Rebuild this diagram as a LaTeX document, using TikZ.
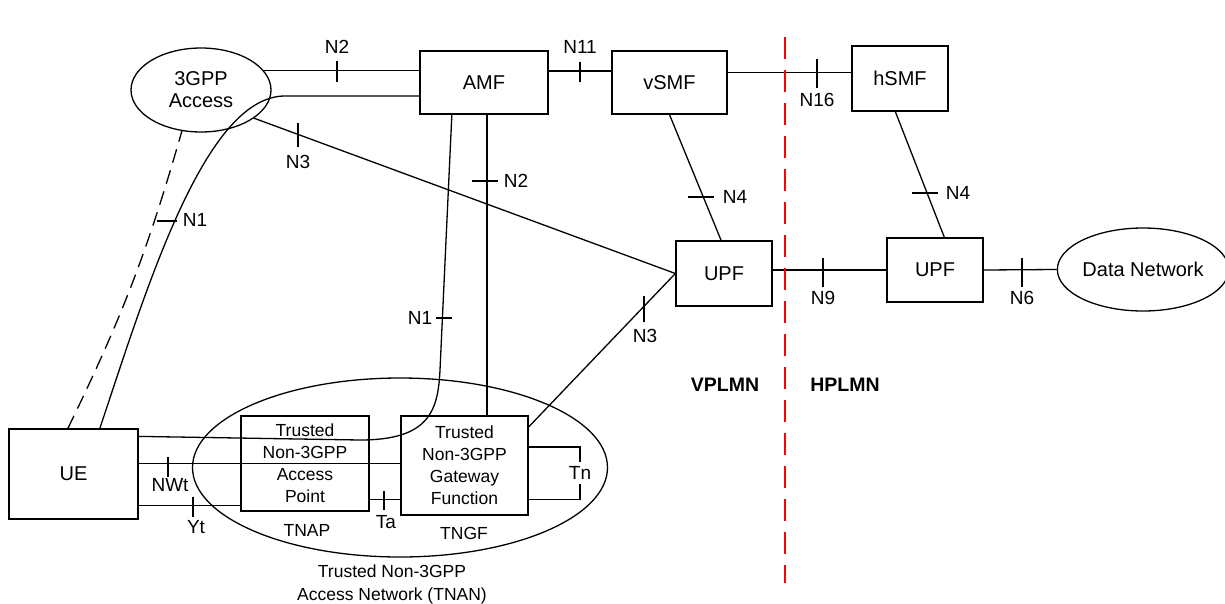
\documentclass[tikz,border=0pt]{standalone}
\usepackage{fontspec}
\setmainfont{Liberation Sans}
\usetikzlibrary{shapes.geometric}
\begin{document}
\begin{tikzpicture}[x=1pt,y=-1pt,line width=1.3pt,
        box/.style={draw,rectangle,inner sep=0pt,font=\fontsize{20}{22}\selectfont},
        cloud/.style={draw,ellipse,inner sep=0pt,align=center,font=\fontsize{20}{22}\selectfont},
        lbl/.style={inner sep=1pt,font=\fontsize{19}{22}\selectfont},
        small/.style={inner sep=1pt,align=center,font=\fontsize{17.5}{22}\selectfont},
        plmn/.style={inner sep=1pt,font=\fontsize{19.5}{22}\selectfont\bfseries}]
        \useasboundingbox (0,0) rectangle (1225,603);

        \node[draw,ellipse,minimum width=415,minimum height=179] (tnan) at (400,467.5) {};
        \node[cloud,minimum width=140,minimum height=84] (acc) at (201,90) {3GPP\\Access};
        \node[box,minimum width=128,minimum height=63] (amf) at (484,82.5) {AMF};
        \node[box,minimum width=115,minimum height=63] (vsmf) at (669.5,82.5) {vSMF};
        \node[box,minimum width=96,minimum height=65] (hsmf) at (900,78.5) {hSMF};
        \node[box,minimum width=96,minimum height=65] (vupf) at (724,273.5) {UPF};
        \node[box,minimum width=96,minimum height=64] (hupf) at (935,270) {UPF};
        \node[cloud,minimum width=164,minimum height=83] (dn) at (1143,269.5) {Data Network};
        \node[box,minimum width=129,minimum height=90] (ue) at (73.5,474) {UE};
        \node[box,small,minimum width=128,minimum height=95] (tnap) at (305,463.5) {Trusted\\Non-3GPP\\Access\\Point};
        \node[box,small,minimum width=127,minimum height=99] (tngf) at (464.5,465.5) {Trusted\\Non-3GPP\\Gateway\\Function};

        \node[small] (tnaplbl) at (307,530) {TNAP};
        \node[small] (tngflbl) at (464,533) {TNGF};
        \node[small,font=\fontsize{17.5}{23}\selectfont] (tnanlbl) at (392,584) {Trusted Non-3GPP\\Access Network (TNAN)};

        \coordinate (n1bend) at (285,96);
        \coordinate (tnA) at (360,440);
        \coordinate (tnB) at (440,370);
        \coordinate (n2x) at (487,0);
        \coordinate (tnx) at (580,0);

        \draw (acc.17) -- (acc.17 -| amf.west);
        \draw (ue.60) .. controls (147,287) and (205,96) .. (n1bend) -- (n1bend -| amf.west);
        \draw [dashed,dash pattern=on 14pt off 8pt] (ue.97) to[bend right=5] (acc.-115);
        \draw (acc.-28) -- (vupf.west);
        \draw (amf.south -| n2x) -- (tngf.north -| n2x);
        \draw (ue.30) -- (tnA) .. controls (430,440) and (438,410) .. (tnB) -- (amf.-135);
        \draw (ue.9) -- (ue.9 -| tngf.west);
        \draw (ue.-26) -- (ue.-26 -| tnap.west);
        \draw (tnap.-29) -- (tnap.-29 -| tngf.west);
        \draw (tngf.16) -| (tnx |- tngf.-28) -- (tngf.-28);
        \draw (tngf.31) -- (vupf.west);
        \draw (amf.10) -- (amf.10 -| vsmf.west);
        \draw (vsmf.10) -- (vsmf.10 -| hsmf.west);
        \draw (vsmf.south) -- (vupf.95);
        \draw (hsmf.-98) -- (hupf.74);
        \draw (vupf.4) -- (vupf.4 -| hupf.west);
        \draw (hupf.east) -- (dn.west);

        \foreach \x/\ya/\yb in {337/61/82, 580/62/82, 817/59/88, 298/123/147, 823/258/287,
                1022/258/287, 644/296/322, 168/457/477, 193/497/517, 384/491/510} {
                \draw (\x,\ya) -- (\x,\yb);
        }
        \foreach \y/\xa/\xb in {221/157/177, 318/436/452, 181/472/498, 197/688/714, 193/912/938} {
                \draw (\xa,\y) -- (\xb,\y);
        }

        \node[lbl] (n2a) at (337,47) {N2};
        \node[lbl] (n11) at (580,47) {N11};
        \node[lbl] (n16) at (817,100) {N16};
        \node[lbl] (n3a) at (298,162) {N3};
        \node[lbl] (n2b) at (516,181) {N2};
        \node[lbl] (n1a) at (195,220) {N1};
        \node[lbl] (n4a) at (735,197) {N4};
        \node[lbl] (n4b) at (958,193) {N4};
        \node[lbl] (n9) at (823,298) {N9};
        \node[lbl] (n6) at (1022,298) {N6};
        \node[lbl] (n1b) at (420,318) {N1};
        \node[lbl] (n3b) at (645,336) {N3};
        \node[lbl] (nwt) at (170,485) {NWt};
        \node[lbl] (yt) at (196,527) {Yt};
        \node[lbl] (ta) at (386,522) {Ta};
        \node[lbl,fill=white,inner ysep=4pt] (tn) at (tnx |- 0,473) {Tn};

        \node[plmn] (vplmn) at (725,385) {VPLMN};
        \node[plmn] (hplmn) at (845,385) {HPLMN};

        \coordinate (plmntop) at (785,37);
        \coordinate (plmnbot) at (785,583);
        \draw [red,line width=2.5pt,dash pattern=on 22pt off 11pt] (plmntop) -- (plmnbot);

\end{tikzpicture}
\end{document}
